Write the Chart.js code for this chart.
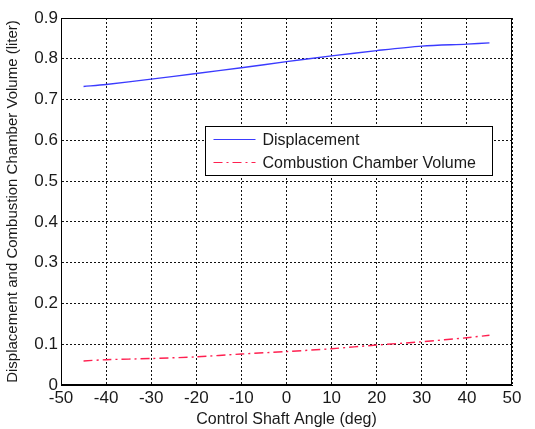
<!DOCTYPE html>
<html>
<head>
<meta charset="utf-8">
<script src="https://cdn.jsdelivr.net/npm/chart.js@4/dist/chart.umd.min.js"></script>
<style>
  html, body { margin: 0; padding: 0; background: #fff; }
  #wrap { width: 535px; height: 429px; }
</style>
</head>
<body>
<div id="wrap"><canvas id="volumeChart" width="535" height="429"></canvas></div>
<script>
const ANGLES_DEG = [-45, -40, -30, -20, -10, 0, 10, 20, 30, 40, 45];
const DISPLACEMENT = [0.732, 0.737, 0.750, 0.764, 0.778, 0.793, 0.807, 0.820, 0.831, 0.836, 0.839];
const COMBUSTION_VOLUME = [0.059, 0.062, 0.065, 0.069, 0.076, 0.082, 0.089, 0.098, 0.106, 0.116, 0.122];
const SERIES_LABELS = ['Displacement', 'Combustion Chamber Volume'];
const X_TICKS = [-50, -40, -30, -20, -10, 0, 10, 20, 30, 40, 50];
const Y_TICKS = [0, 0.1, 0.2, 0.3, 0.4, 0.5, 0.6, 0.7, 0.8, 0.9];

const COLORS = {
    displacement: '#3b3bff',
    combustion: '#ff2050',
    grid: '#111',
    text: '#1a1a1a'
};

const FONT = "'Liberation Sans', Arial, sans-serif";

function toPoints(xs, ys) {
    return xs.map((x, i) => ({ x, y: ys[i] }));
}

// box around the plot area plus a MATLAB-style legend inside it
const framePlugin = {
    id: 'frame',
    afterDraw(chart) {
        const { ctx, chartArea: a } = chart;
        ctx.save();
        ctx.strokeStyle = '#000';
        ctx.lineWidth = 1;
        ctx.setLineDash([]);
        ctx.strokeRect(a.left + 0.5, a.top + 0.5, a.right - a.left - 1, a.bottom - a.top - 1);

        const w = a.right - a.left;
        const h = a.bottom - a.top;
        const bx = Math.round(a.left + w * 0.319) + 0.5;
        const by = Math.round(a.top + h * 0.294) + 0.5;
        const bw = 287;
        const bh = 49;
        ctx.fillStyle = '#fff';
        ctx.fillRect(bx, by, bw, bh);
        ctx.strokeRect(bx, by, bw, bh);

        ctx.font = '16px ' + FONT;
        ctx.textBaseline = 'middle';
        chart.data.datasets.forEach((ds, i) => {
            const ly = by + 13 + i * 23;
            ctx.strokeStyle = ds.borderColor;
            ctx.lineWidth = 1.2;
            ctx.setLineDash(ds.borderDash || []);
            ctx.beginPath();
            ctx.moveTo(bx + 8, ly);
            ctx.lineTo(bx + 50, ly);
            ctx.stroke();
            ctx.setLineDash([]);
            ctx.fillStyle = COLORS.text;
            ctx.fillText(ds.label, bx + 57, ly + 1);
        });
        ctx.restore();
    }
};

function initVolumeChart() {
    const canvas = document.getElementById('volumeChart');
    if (!canvas) return;

    new Chart(canvas.getContext('2d'), {
        type: 'line',
        data: {
            datasets: [{
                label: SERIES_LABELS[0],
                data: toPoints(ANGLES_DEG, DISPLACEMENT),
                borderColor: COLORS.displacement,
                borderWidth: 1.4,
                pointRadius: 0,
                tension: 0.3
            }, {
                label: SERIES_LABELS[1],
                data: toPoints(ANGLES_DEG, COMBUSTION_VOLUME),
                borderColor: COLORS.combustion,
                borderWidth: 1.4,
                borderDash: [9, 4, 2, 4],
                pointRadius: 0,
                tension: 0.3
            }]
        },
        options: {
            responsive: false,
            animation: false,
            layout: { padding: { top: 18, right: 23, left: 4, bottom: 0 } },
            plugins: {
                legend: { display: false },
                tooltip: { enabled: false }
            },
            scales: {
                x: {
                    type: 'linear',
                    min: -50,
                    max: 50,
                    afterFit: (s) => { s.height = 44; },
                    afterBuildTicks: (s) => { s.ticks = X_TICKS.map(v => ({ value: v })); },
                    grid: {
                        color: COLORS.grid,
                        lineWidth: 1,
                        drawTicks: false
                    },
                    // in v4 border.dash also dashes the grid lines (MATLAB dotted grid)
                    border: { display: true, color: '#000', dash: [2, 2] },
                    ticks: {
                        color: COLORS.text,
                        font: { family: FONT, size: 17 },
                        padding: 3,
                        maxRotation: 0
                    },
                    title: {
                        display: true,
                        text: 'Control Shaft Angle (deg)',
                        color: COLORS.text,
                        font: { family: FONT, size: 16 },
                        padding: { top: 0, bottom: 0 }
                    }
                },
                y: {
                    min: 0,
                    max: 0.9,
                    afterFit: (s) => { s.width = 57; },
                    afterBuildTicks: (s) => { s.ticks = Y_TICKS.map(v => ({ value: v })); },
                    grid: {
                        color: COLORS.grid,
                        lineWidth: 1,
                        drawTicks: false
                    },
                    border: { display: true, color: '#000', dash: [2, 2] },
                    ticks: {
                        color: COLORS.text,
                        font: { family: FONT, size: 17 },
                        padding: 3,
                        callback: (v) => v === 0 ? '0' : v.toFixed(1)
                    },
                    title: {
                        display: true,
                        text: 'Displacement and Combustion Chamber Volume (liter)',
                        color: COLORS.text,
                        font: { family: FONT, size: 15 },
                        padding: { top: 0, bottom: 0 }
                    }
                }
            }
        },
        plugins: [framePlugin]
    });
}

document.addEventListener('DOMContentLoaded', initVolumeChart);
</script>
</body>
</html>
